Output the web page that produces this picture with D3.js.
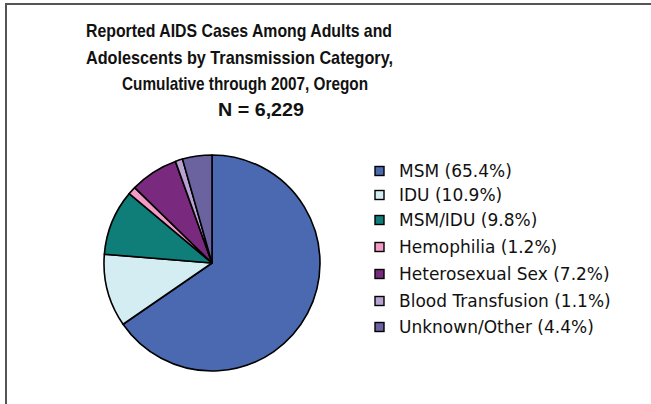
<!DOCTYPE html>
<html>
<head>
<meta charset="utf-8">
<script src="https://cdn.jsdelivr.net/npm/d3@7/dist/d3.min.js"></script>
<style>
  html, body { margin: 0; padding: 0; background: #fff; }
  svg { display: block; }
</style>
</head>
<body>
<svg id="chart" width="651" height="404"></svg>
<script>
const titleLines = [
  "Reported AIDS Cases Among Adults and",
  "Adolescents by Transmission Category,",
  "Cumulative through 2007, Oregon",
  "N = 6,229"
];
const categories = ["MSM", "IDU", "MSM/IDU", "Hemophilia", "Heterosexual Sex", "Blood Transfusion", "Unknown/Other"];
const percents = [65.4, 10.9, 9.8, 1.2, 7.2, 1.1, 4.4];
const colors = ["#4a69b0", "#d4edf3", "#0f7d78", "#f39bc6", "#7a2a7e", "#b8a2d2", "#6a63a0"];

const svg = d3.select("#chart");

// frame
svg.append("path")
  .attr("d", "M6,404 L6,4 L651,4")
  .attr("fill", "none")
  .attr("stroke", "#555")
  .attr("stroke-width", 2);

// title
const titleX = [86, 86, 122, 218];
const titleY = [37, 64, 90, 116];
const titleW = [306, 307, 246, 86];
svg.append("g").selectAll("text")
  .data(titleLines)
  .join("text")
  .attr("x", (d, i) => titleX[i])
  .attr("y", (d, i) => titleY[i])
  .attr("textLength", (d, i) => titleW[i])
  .attr("lengthAdjust", "spacingAndGlyphs")
  .attr("font-family", "'Liberation Sans Narrow', 'Liberation Sans', Arial, sans-serif")
  .attr("font-weight", "bold")
  .attr("font-size", 19)
  .attr("fill", "#111")
  .text(d => d);

// pie
const data = categories.map((c, i) => ({ cat: c, value: percents[i], color: colors[i] }));
const pie = d3.pie().sort(null).value(d => d.value);
const arc = d3.arc().innerRadius(0).outerRadius(108);
svg.append("g")
  .attr("transform", "translate(212,263)")
  .selectAll("path")
  .data(pie(data))
  .join("path")
  .attr("d", arc)
  .attr("fill", d => d.data.color)
  .attr("stroke", "#000")
  .attr("stroke-width", 1.6)
  .attr("stroke-linejoin", "round");

// legend
const legendY = [171, 195, 220, 247, 274, 301, 327];
const lg = svg.append("g").selectAll("g")
  .data(data)
  .join("g")
  .attr("transform", (d, i) => `translate(375,${legendY[i]})`);
lg.append("rect")
  .attr("x", 0).attr("y", -4.5)
  .attr("width", 9).attr("height", 9)
  .attr("fill", d => d.color)
  .attr("stroke", "#000")
  .attr("stroke-width", 1.4);
lg.append("text")
  .attr("x", 24)
  .attr("y", 6)
  .attr("font-family", "'DejaVu Sans', sans-serif")
  .attr("font-size", 17)
  .attr("fill", "#111")
  .text(d => `${d.cat} (${d.value}%)`);
</script>
</body>
</html>
